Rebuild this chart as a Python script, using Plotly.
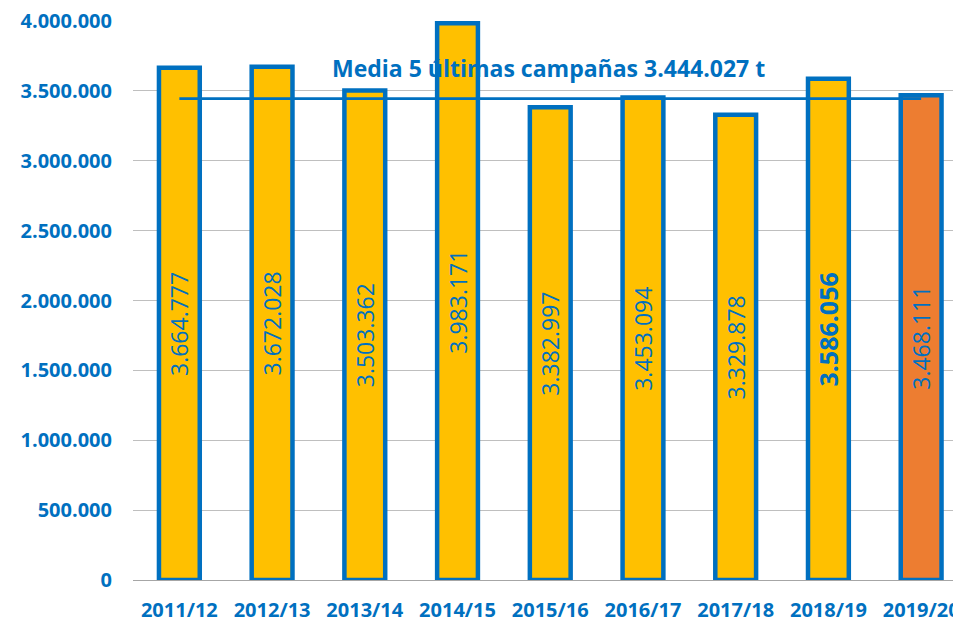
import plotly.graph_objects as go

campaigns = ["2011/12", "2012/13", "2013/14", "2014/15", "2015/16",
             "2016/17", "2017/18", "2018/19", "2019/20"]
production = [3664777, 3672028, 3503362, 3983171, 3382997,
              3453094, 3329878, 3586056, 3468111]
mean_5 = 3444027
mean_label = "Media 5 últimas campañas 3.444.027 t"
y_ticks = [0, 500000, 1000000, 1500000, 2000000, 2500000, 3000000, 3500000, 4000000]
y_tick_labels = ["0", "500.000", "1.000.000", "1.500.000", "2.000.000",
                 "2.500.000", "3.000.000", "3.500.000", "4.000.000"]

BLUE = "#0070C0"
fills = ["#FFC000"] * 8 + ["#ED7D31"]
label_sizes = [23] * 7 + [25, 23]

fig = go.Figure()
fig.add_trace(go.Bar(
    x=campaigns, y=production, width=0.44,
    marker=dict(color=fills, line=dict(color=BLUE, width=4.5)),
    texttemplate=["%{y:,d}"] * 7 + ["<b>%{y:,d}</b>", "%{y:,d}"],
    textposition="inside", insidetextanchor="middle",
    textangle=-90, constraintext="none",
    textfont=dict(color=BLUE, size=label_sizes, family="Open Sans"),
    hoverinfo="skip",
))
fig.add_trace(go.Scatter(
    x=[campaigns[0], campaigns[-1]], y=[mean_5, mean_5], mode="lines",
    line=dict(color=BLUE, width=2.8), hoverinfo="skip",
))
fig.add_annotation(
    x=3.98, y=mean_5, xref="x", yref="y", yshift=31, showarrow=False,
    text="<b>" + mean_label + "</b>",
    font=dict(color=BLUE, size=23, family="Open Sans"),
)
# page body has an 8px margin; size the figure so the plot area lands at
# x 133..961 and y 21..580 of the window
fig.update_layout(
    width=953, height=620, showlegend=False,
    margin=dict(l=125, r=0, t=13, b=48),
    plot_bgcolor="white", paper_bgcolor="white",
    separators=",.", bargap=0.5,
    font=dict(family="Open Sans", color=BLUE),
)
fig.update_xaxes(
    range=[-0.5, 8.43], showline=True, linecolor="#A6A6A6", linewidth=1,
    tickfont=dict(size=20, color=BLUE, family="Open Sans", weight="bold"),
    showgrid=False, ticks="", automargin=False, ticklabelstandoff=12,
    ticklabeloverflow="allow",
)
fig.update_yaxes(
    range=[0, 4000000], tickmode="array", tickvals=y_ticks, ticktext=y_tick_labels,
    showgrid=True, gridcolor="#BFBFBF", gridwidth=1, zeroline=False,
    tickfont=dict(size=20, color=BLUE, family="Open Sans", weight="bold"),
    ticklabelstandoff=20, automargin=False, ticklabeloverflow="allow",
)
fig.write_html("out.html")
